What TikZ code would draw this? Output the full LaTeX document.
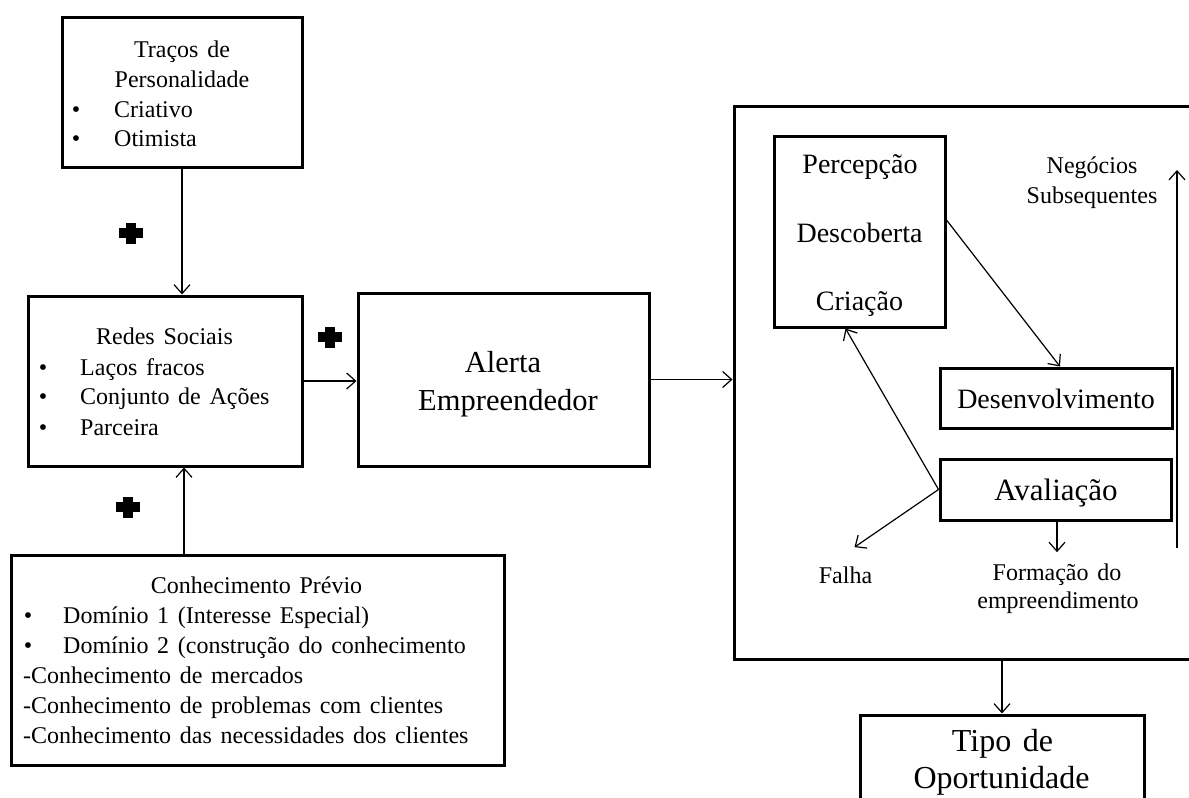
\documentclass[tikz,border=0pt]{standalone}
\usepackage{fontspec}
\setmainfont[WordSpace=1.45]{Liberation Serif}
\usetikzlibrary{arrows.meta}
\begin{document}
\begin{tikzpicture}[x=1pt,y=-1pt,
  box/.style={draw, line width=3pt, rectangle, inner sep=0pt},
  arr/.style={line width=1.2pt, -{Straight Barb[length=9pt,width=16pt,line width=1.2pt]}},
  txt/.style={inner sep=0pt, font=\fontsize{24}{29}\selectfont},
  mid/.style={inner sep=0pt, font=\fontsize{28}{33}\selectfont},
  big/.style={inner sep=0pt, font=\fontsize{31}{37}\selectfont},
  plusmark/.pic={
    \fill (-12pt,-5pt) rectangle (12pt,5pt);
    \fill (-5pt,-10.5pt) rectangle (5pt,10.5pt);
  }
]
\clip (0,0) rectangle (1189,798);

% frames
\node[box, minimum width=240pt, minimum height=150pt] (traits) at (182,92) {};
\node[box, minimum width=274pt, minimum height=170pt] (redes) at (165,381) {};
\node[box, minimum width=493pt, minimum height=210pt] (conh) at (257.5,660) {};
\node[box, minimum width=291pt, minimum height=173pt] (alerta) at (503.5,379.5) {};
\node[box, minimum width=460pt, minimum height=553pt] (outer) at (964,382.5) {};
\node[box, minimum width=171pt, minimum height=191pt] (percep) at (859.5,231.5) {};
\node[box, minimum width=232pt, minimum height=60pt] (desenv) at (1056,398) {};
\node[box, minimum width=231pt, minimum height=61pt] (aval) at (1055.5,489.5) {};
\node[box, minimum width=284pt, minimum height=125pt] (tipo) at (1002,777.5) {};

% personality traits
\node[txt, anchor=base] (tr1) at (182,57) {Traços de};
\node[txt, anchor=base] (tr2) at (182,87) {Personalidade};
\node[txt, anchor=base] (trb1) at (76,117) {•};
\node[txt, anchor=base west] (tr3) at (114,117) {Criativo};
\node[txt, anchor=base] (trb2) at (76,146) {•};
\node[txt, anchor=base west] (tr4) at (114,146) {Otimista};

% social networks
\node[txt, anchor=base] (rd1) at (164.5,344) {Redes Sociais};
\node[txt, anchor=base] (rdb1) at (43,375) {•};
\node[txt, anchor=base west] (rd2) at (80,375) {Laços fracos};
\node[txt, anchor=base] (rdb2) at (43,404) {•};
\node[txt, anchor=base west] (rd3) at (80,404) {Conjunto de Ações};
\node[txt, anchor=base] (rdb3) at (43,435) {•};
\node[txt, anchor=base west] (rd4) at (80,435) {Parceira};

% prior knowledge
\node[txt, anchor=base] (ck1) at (256.5,593) {Conhecimento Prévio};
\node[txt, anchor=base] (ckb1) at (28,623) {•};
\node[txt, anchor=base west] (ck2) at (63,623) {Domínio 1 (Interesse Especial)};
\node[txt, anchor=base] (ckb2) at (28,653) {•};
\node[txt, anchor=base west] (ck3) at (63,653) {Domínio 2 (construção do conhecimento};
\node[txt, anchor=base west] (ck4) at (23,683) {-Conhecimento de mercados};
\node[txt, anchor=base west] (ck5) at (23,713) {-Conhecimento de problemas com clientes};
\node[txt, anchor=base west] (ck6) at (23,743) {-Conhecimento das necessidades dos clientes};

% alertness
\node[inner sep=0pt, font=\fontsize{30.5}{36}\selectfont, anchor=base] (al1) at (503,372) {Alerta};
\node[inner sep=0pt, font=\fontsize{30.5}{36}\selectfont, anchor=base] (al2) at (508,410) {Empreendedor};

% process
\node[mid, anchor=base] (pc1) at (860,173) {Percepção};
\node[mid, anchor=base] (pc2) at (859.5,242) {Descoberta};
\node[mid, anchor=base] (pc3) at (859.5,310) {Criação};
\node[txt, anchor=base] (ng1) at (1092,173) {Negócios};
\node[txt, anchor=base] (ng2) at (1092,203) {Subsequentes};
\node[mid, anchor=base] (dv) at (1056,408) {Desenvolvimento};
\node[big, anchor=base] (av) at (1056,500) {Avaliação};
\node[txt, anchor=base] (falha) at (845.5,583) {Falha};
\node[txt, anchor=base] (form1) at (1057,580) {Formação do};
\node[txt, anchor=base] (form2) at (1058,608) {empreendimento};
\node[inner sep=0pt, font=\fontsize{32}{38}\selectfont, anchor=base] (tp1) at (1002.5,751) {Tipo de};
\node[inner sep=0pt, font=\fontsize{32}{38}\selectfont, anchor=base] (tp2) at (1001.5,788) {Oportunidade};

% connectors
\coordinate (kIn) at ([xshift=19pt]redes.south);
\coordinate (negFoot) at (1177,548);
\coordinate (negHead) at (1177,170);
\draw[arr] (traits.south) -- (traits.south |- redes.north);
\draw[arr] (kIn |- conh.north) -- (kIn);
\draw[arr] (redes.east) -- (redes.east -| alerta.west);
\draw[arr] (alerta.east) -- (alerta.east -| outer.west);
\draw[arr] ([yshift=11.5pt]percep.east) -- ([xshift=4pt]desenv.north);
\draw[arr] (aval.west) -- ([xshift=-14pt]percep.south);
\draw[arr] (aval.west) -- ([xshift=9pt,yshift=19pt]falha.north);
\draw[arr] (form1.north |- aval.south) -- ([yshift=11pt]form1.north);
\draw[arr] (tipo.north |- outer.south) -- (tipo.north);
\draw[arr] (negFoot) -- (negHead);

% positive influence marks
\pic at (131,233) {plusmark};
\pic at (330,337) {plusmark};
\pic at (128,507) {plusmark};
\end{tikzpicture}
\end{document}
